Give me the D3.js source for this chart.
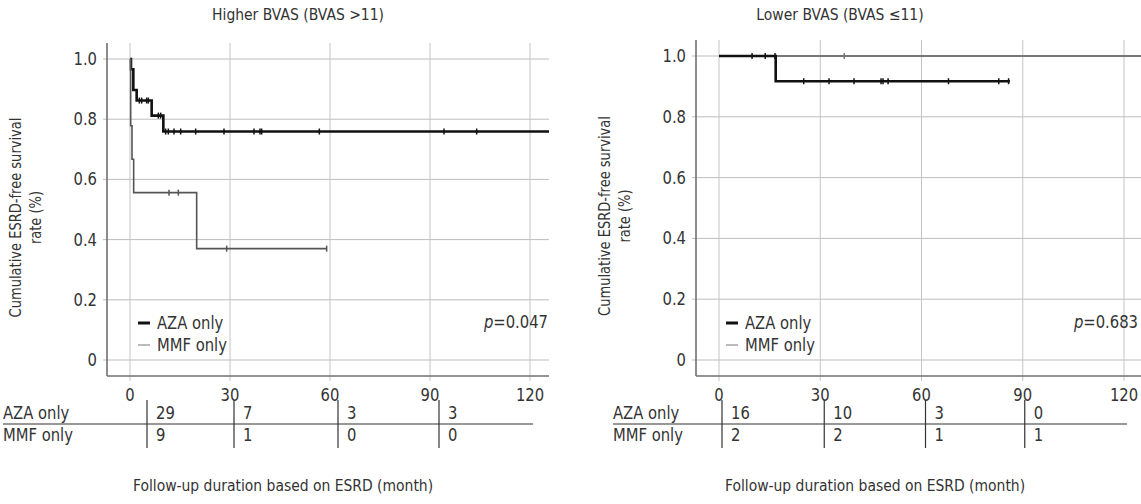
<!DOCTYPE html>
<html>
<head>
<meta charset="utf-8">
<script src="https://cdn.jsdelivr.net/npm/d3@7"></script>
<style>
  body { margin: 0; background: #fff; }
  svg { font-family: "DejaVu Sans", sans-serif; }
</style>
</head>
<body>
<svg id="chart" width="1141" height="504"></svg>
<script>
// ---- data ----
const xTicks = [0, 30, 60, 90, 120];
const yTicks = [0, 0.2, 0.4, 0.6, 0.8, 1.0];
const yTickLabels = ["0", "0.2", "0.4", "0.6", "0.8", "1.0"];
const groupNames = ["AZA only", "MMF only"];
const riskTimes = [0, 30, 60, 90];

// Higher BVAS
const hiAzaTimes = [0, 0.3, 1.0, 2.0, 6.5, 10.0];
const hiAzaSurv = [1, 0.966, 0.897, 0.862, 0.812, 0.759];
const hiAzaEnd = 130;
const hiAzaCensor = [2.8, 3.5, 5.0, 5.5, 8.5, 9.2, 10.7, 11.5, 13.2, 15.2, 19.7, 28.2, 37.2, 39.0, 39.5, 56.8, 94.2, 104];
const hiMmfTimes = [0, 0.2, 0.6, 1.1, 20];
const hiMmfSurv = [1, 0.778, 0.667, 0.556, 0.370];
const hiMmfEnd = 59;
const hiMmfCensor = [11.7, 14.5, 29, 59];
const hiRiskAza = [29, 7, 3, 3];
const hiRiskMmf = [9, 1, 0, 0];

// Lower BVAS
const loAzaTimes = [0, 16.8];
const loAzaSurv = [1, 0.917];
const loAzaEnd = 86.2;
const loAzaCensor = [9.8, 13.7, 16.6, 25.1, 32.6, 40, 48, 48.6, 50.1, 68, 82.9, 85.8];
const loMmfTimes = [0];
const loMmfSurv = [1];
const loMmfEnd = 130;
const loMmfCensor = [37.1];
const loRiskAza = [16, 10, 3, 0];
const loRiskMmf = [2, 2, 1, 1];

// the original uses a condensed face; squeeze text horizontally
const SX = 0.87;
const svg = d3.select("#chart");

function at(x, y) { return `translate(${x},${y}) scale(${SX},1)`; }

function stepAt(times, surv, t) {
    let s = surv[0];
    times.forEach((tt, i) => { if (tt <= t) s = surv[i]; });
    return s;
}

function stepPoints(times, surv, end) {
    const pts = [];
    times.forEach((t, i) => {
        if (i > 0) pts.push([t, surv[i - 1]]);
        pts.push([t, surv[i]]);
    });
    pts.push([end, surv[surv.length - 1]]);
    return pts;
}

function drawPanel(p) {
    const x = d3.scaleLinear().domain([0, 120]).range(p.xRange);
    const y = d3.scaleLinear().domain([0, 1]).range(p.yRange);
    const g = svg.append("g");

    g.append("defs").append("clipPath").attr("id", p.id)
        .append("rect").attr("x", p.left).attr("y", p.top - 5)
        .attr("width", p.right - p.left).attr("height", p.bottom - p.top + 5);

    // grid
    g.append("g").selectAll("line").data(yTicks).join("line")
        .attr("x1", p.left - 4).attr("x2", p.right)
        .attr("y1", d => y(d)).attr("y2", d => y(d))
        .attr("stroke", "#bdbdbd").attr("stroke-width", 1);
    g.append("g").selectAll("line").data(xTicks).join("line")
        .attr("x1", d => x(d)).attr("x2", d => x(d))
        .attr("y1", p.top).attr("y2", p.bottom + 5)
        .attr("stroke", "#c4c4c4").attr("stroke-width", 1);

    // axes
    g.append("line").attr("x1", p.left).attr("x2", p.left)
        .attr("y1", p.top).attr("y2", p.bottom)
        .attr("stroke", "#707070").attr("stroke-width", 1.6);
    g.append("line").attr("x1", p.left).attr("x2", p.right)
        .attr("y1", p.bottom).attr("y2", p.bottom)
        .attr("stroke", "#707070").attr("stroke-width", 1.6);

    g.append("g").selectAll("text").data(yTicks).join("text")
        .attr("transform", d => at(p.left - 10, y(d)))
        .attr("dy", "0.35em").attr("text-anchor", "end")
        .attr("font-size", 17).attr("fill", "#333")
        .text((d, i) => yTickLabels[i]);
    g.append("g").selectAll("text").data(xTicks).join("text")
        .attr("transform", d => at(x(d), p.bottom + 25))
        .attr("text-anchor", "middle")
        .attr("font-size", 17).attr("fill", "#333")
        .text(d => d);

    // title and y label
    g.append("text").attr("transform", at(p.titleX, 20))
        .attr("text-anchor", "middle").attr("font-size", 16).attr("fill", "#333")
        .text(p.title);
    const yl = g.append("text")
        .attr("transform", `translate(${p.left - 86},${(p.top + p.bottom) / 2 + 8}) rotate(-90) scale(${SX},1)`)
        .attr("text-anchor", "middle").attr("font-size", 15).attr("fill", "#333");
    yl.append("tspan").attr("x", 0).attr("dy", 0).text("Cumulative ESRD-free survival");
    yl.append("tspan").attr("x", 0).attr("dy", 20).text("rate (%)");

    // curves
    const line = d3.line().x(d => x(d[0])).y(d => y(d[1]));
    const curves = g.append("g").attr("clip-path", `url(#${p.id})`);
    p.series.forEach(s => {
        curves.append("path")
            .attr("d", line(stepPoints(s.times, s.surv, s.end)))
            .attr("fill", "none").attr("stroke", s.color).attr("stroke-width", s.width);
        curves.append("g").selectAll("line").data(s.censor).join("line")
            .attr("x1", d => x(d)).attr("x2", d => x(d))
            .attr("y1", d => y(stepAt(s.times, s.surv, d)) - 3)
            .attr("y2", d => y(stepAt(s.times, s.surv, d)) + 3)
            .attr("stroke", s.color).attr("stroke-width", 1.5);
    });

    // legend
    const lg = g.append("g");
    groupNames.forEach((name, i) => {
        const ly = p.legendY + i * 22;
        lg.append("line").attr("x1", p.legendX).attr("x2", p.legendX + 12)
            .attr("y1", ly).attr("y2", ly)
            .attr("stroke", i === 0 ? "#111" : "#bbb").attr("stroke-width", i === 0 ? 3 : 2);
        lg.append("text").attr("transform", at(p.legendX + 19, ly)).attr("dy", "0.35em")
            .attr("font-size", 17).attr("fill", "#333").text(name);
    });

    const pt = g.append("text").attr("transform", at(p.pX, p.legendY + 5))
        .attr("text-anchor", "end").attr("font-size", 17).attr("fill", "#333");
    pt.append("tspan").attr("font-style", "italic").text("p");
    pt.append("tspan").text(p.pValue);

    // number at risk table
    const rowY = [413, 435];
    const t = g.append("g");
    t.append("line").attr("x1", p.tableLeft).attr("x2", p.tableRight)
        .attr("y1", 424).attr("y2", 424).attr("stroke", "#333").attr("stroke-width", 1.2);
    riskTimes.forEach((rt, j) => {
        const sx = x(rt) + p.sepShift[j];
        t.append("line").attr("x1", sx).attr("x2", sx)
            .attr("y1", 400).attr("y2", 448).attr("stroke", "#333").attr("stroke-width", 1.2);
    });
    [p.riskAza, p.riskMmf].forEach((row, i) => {
        t.append("text").attr("transform", at(p.tableLeft, rowY[i])).attr("dy", "0.35em")
            .attr("font-size", 17).attr("fill", "#333").text(groupNames[i]);
        t.append("g").selectAll("text").data(row).join("text")
            .attr("transform", (d, j) => at(x(riskTimes[j]) + p.sepShift[j] + 9, rowY[i]))
            .attr("dy", "0.35em")
            .attr("font-size", 17).attr("fill", "#333").text(d => d);
    });
    g.append("text").attr("transform", at(p.xLabelX, 491))
        .attr("text-anchor", "middle").attr("font-size", 16).attr("fill", "#333")
        .text(p.xLabel);
}

drawPanel({
    id: "clipHi",
    title: "Higher BVAS (BVAS >11)",
    titleX: 298,
    xRange: [130, 530], yRange: [360, 59],
    left: 107, right: 549, top: 43, bottom: 376,
    legendX: 138, legendY: 323, pX: 548, pValue: "=0.047",
    tableLeft: 3, tableRight: 533, sepShift: [17, 4, 8, 9],
    riskAza: hiRiskAza, riskMmf: hiRiskMmf,
    xLabel: "Follow-up duration based on ESRD (month)", xLabelX: 283,
    series: [
        { times: hiAzaTimes, surv: hiAzaSurv, end: hiAzaEnd, censor: hiAzaCensor, color: "#111", width: 2.6 },
        { times: hiMmfTimes, surv: hiMmfSurv, end: hiMmfEnd, censor: hiMmfCensor, color: "#555", width: 1.6 }
    ]
});

drawPanel({
    id: "clipLo",
    title: "Lower BVAS (BVAS \u226411)",
    titleX: 840,
    xRange: [719, 1124], yRange: [360, 56],
    left: 696, right: 1141, top: 40, bottom: 376,
    legendX: 726, legendY: 323, pX: 1138, pValue: "=0.683",
    tableLeft: 613, tableRight: 1127, sepShift: [3, 4, 4, 2],
    riskAza: loRiskAza, riskMmf: loRiskMmf,
    xLabel: "Follow-up duration based on ESRD  (month)", xLabelX: 875,
    series: [
        { times: loMmfTimes, surv: loMmfSurv, end: loMmfEnd, censor: loMmfCensor, color: "#777", width: 2 },
        { times: loAzaTimes, surv: loAzaSurv, end: loAzaEnd, censor: loAzaCensor, color: "#111", width: 2.6 }
    ]
});
</script>
</body>
</html>
